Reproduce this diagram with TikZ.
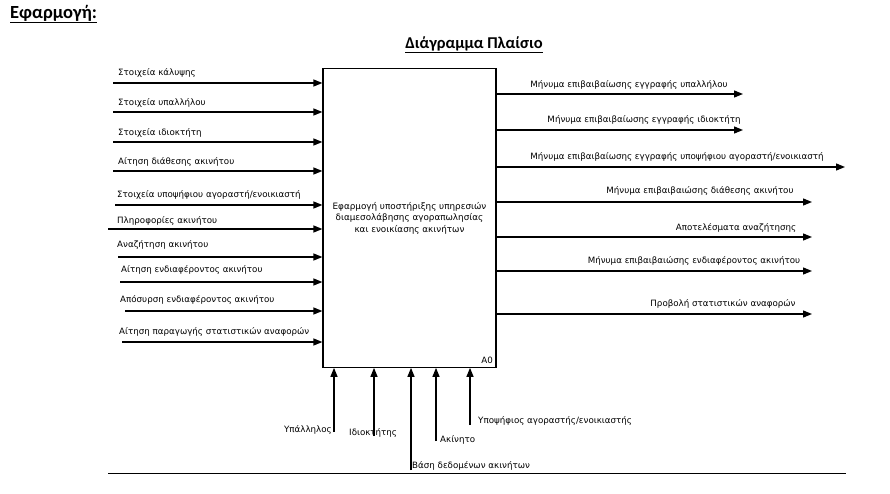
\documentclass[tikz,border=0pt]{standalone}
\usepackage{fontspec}
\setmainfont{DejaVu Sans}
\newfontfamily\titlefont{Carlito}
\usetikzlibrary{arrows.meta}
\begin{document}
\begin{tikzpicture}[x=1pt,y=-1pt,
  lbl/.style={font=\fontsize{8.7}{10}\selectfont, inner sep=0pt},
  flow/.style={line width=1.3pt, -{Triangle[length=9pt,width=7pt]}},
  boxst/.style={draw, line width=1.2pt, minimum width=173pt, minimum height=298.5pt, inner sep=0pt, align=center, font=\fontsize{8.8}{11.5}\selectfont},
]
\useasboundingbox (0,0) rectangle (890,494);

% titles
\node[anchor=west, inner sep=0pt, font=\titlefont\bfseries\fontsize{18.5}{21}\selectfont] (title) at (10,14) {\underline{Εφαρμογή:}};
\node[inner sep=0pt, font=\titlefont\bfseries\fontsize{16.5}{19}\selectfont] (subtitle) at (474,45) {\underline{Διάγραμμα Πλαίσιο}};

% main box
\node[boxst] (box) at (409.5,218) {Εφαρμογή υποστήριξης υπηρεσιών\\διαμεσολάβησης αγοραπωλησίας\\και ενοικίασης ακινήτων};
\node[lbl, anchor=south east] (a0) at (493,364) {A0};

% inputs
\foreach \n/\sx/\ly/\tx/\ty/\t in {
  1/113/83/118/73/{Στοιχεία κάλυψης},
  2/113/112/118/103/{Στοιχεία υπαλλήλου},
  3/113/142/118/133/{Στοιχεία ιδιοκτήτη},
  4/113/171/118/162/{Αίτηση διάθεσης ακινήτου},
  5/115/205/117/195/{Στοιχεία υποψήφιου αγοραστή/ενοικιαστή},
  6/108/229/117/221/{Πληροφορίες ακινήτου},
  7/118/257/117/245/{Αναζήτηση ακινήτου},
  8/120/282/121/270/{Αίτηση ενδιαφέροντος ακινήτου},
  9/125/311/120/300/{Απόσυρση ενδιαφέροντος ακινήτου},
  10/122/342/119/332/{Αίτηση παραγωγής στατιστικών αναφορών}}{
  \coordinate (in\n) at (\sx,\ly);
  \node[lbl, anchor=west] (inl\n) at (\tx,\ty) {\t};
  \draw[flow] (in\n) -- (in\n -| box.west);
}

% outputs
\foreach \n/\ly/\ex/\tx/\ty/\t in {
  1/94/743/629/85/{Μήνυμα επιβαιβαίωσης εγγραφής υπαλλήλου},
  2/130/743/644/120/{Μήνυμα επιβαιβαίωσης εγγραφής ιδιοκτήτη},
  3/167/845/677/157/{Μήνυμα επιβαιβαίωσης εγγραφής υποψήφιου αγοραστή/ενοικιαστή},
  4/202/812/700/191/{Μήνυμα επιβαιβαιώσης διάθεσης ακινήτου},
  5/237/812/736/228/{Αποτελέσματα αναζήτησης},
  6/271/812/694/261/{Μήνυμα επιβαιβαιώσης ενδιαφέροντος ακινήτου},
  7/314/812/723/304/{Προβολή στατιστικών αναφορών}}{
  \coordinate (out\n) at (\ex,\ly);
  \node[lbl] (outl\n) at (\tx,\ty) {\t};
  \draw[flow] (out\n -| box.east) -- (out\n);
}

% mechanisms (bottom)
\foreach \n/\x/\y in {1/334/432, 2/374/436, 3/411/470, 4/436/441, 5/470/425}{
  \coordinate (m\n) at (\x,\y);
  \draw[flow] (m\n) -- (m\n |- box.south);
}
\node[lbl, anchor=east] (ml1) at (332,430) {Υπάλληλος};
\node[lbl, anchor=west] (ml2) at (349,433) {Ιδιοκτήτης};
\node[lbl, anchor=west] (ml3) at (412,466) {Βάση δεδομένων ακινήτων};
\node[lbl, anchor=west] (ml4) at (440,440) {Ακίνητο};
\node[lbl, anchor=west] (ml5) at (478,421) {Υποψήφιος αγοραστής/ενοικιαστής};

% bottom rule
\coordinate (r1) at (108,473.5);
\coordinate (r2) at (846,473.5);
\draw[line width=1.2pt] (r1) -- (r2);
\end{tikzpicture}
\end{document}
